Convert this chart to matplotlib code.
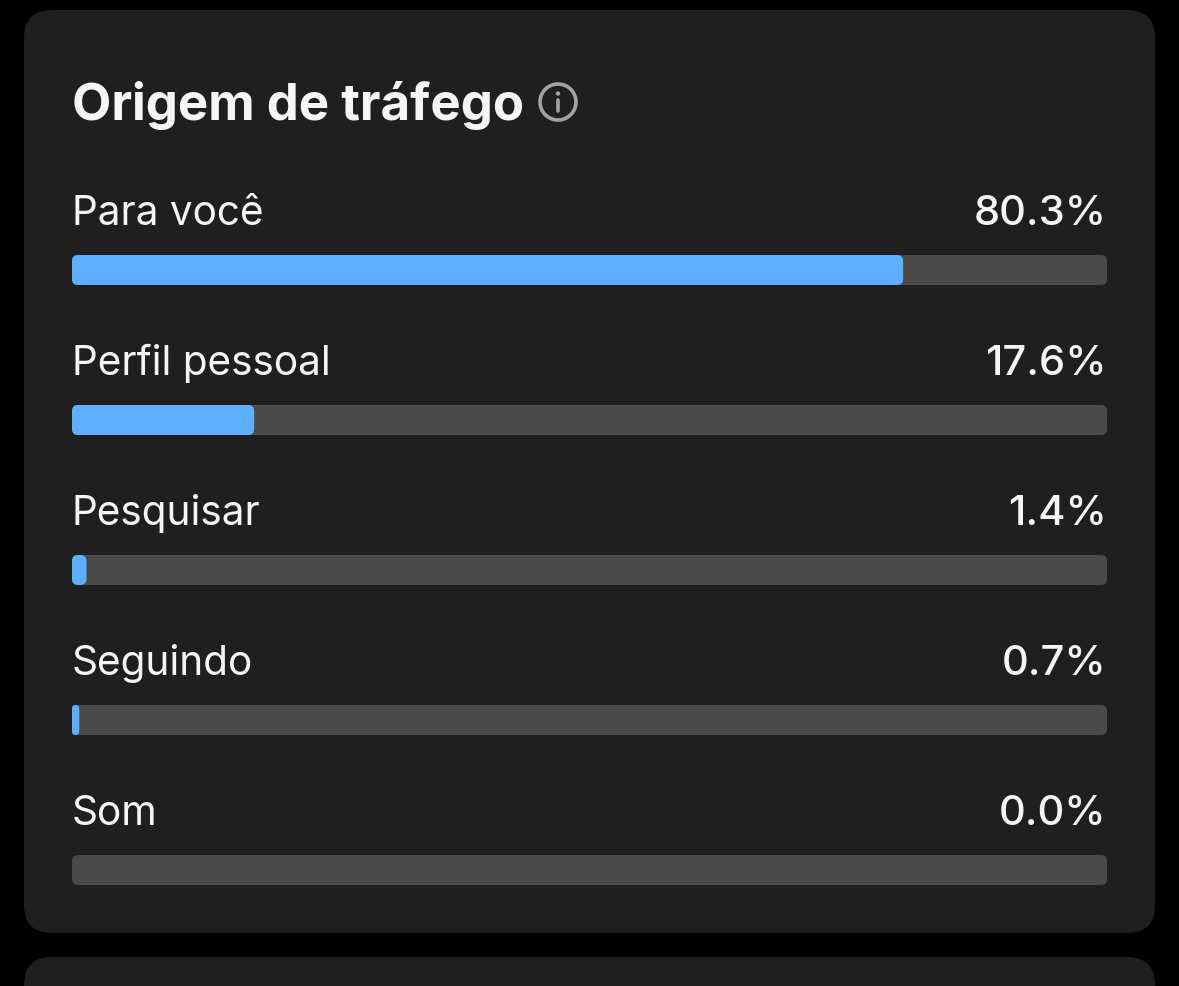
import matplotlib
matplotlib.use('Agg')
import matplotlib.pyplot as plt
from matplotlib.patches import FancyBboxPatch, Circle

categories = ['Para você', 'Perfil pessoal', 'Pesquisar', 'Seguindo', 'Som']
values = [80.3, 17.6, 1.4, 0.7, 0.0]
value_labels = ['80.3%', '17.6%', '1.4%', '0.7%', '0.0%']
title = 'Origem de tráfego'

W, H = 1179, 986
BG = '#000000'
CARD = '#1f1f1f'
TRACK = '#4a4a4a'
BLUE = '#5eb0ff'
TXT = '#f5f5f5'

plt.rcParams['font.family'] = ['Inter', 'DejaVu Sans']

fig = plt.figure(figsize=(W / 100, H / 100), dpi=100, facecolor=BG)

# layer in pixel coordinates: cards, text, icon
ax = fig.add_axes([0, 0, 1, 1])
ax.set_xlim(0, W)
ax.set_ylim(H, 0)
ax.axis('off')

def rbox(a, x, y, w, h, r, color, aspect=1.0):
    p = FancyBboxPatch((x, y), w, h, boxstyle='round,pad=0,rounding_size=%f' % r,
                       mutation_aspect=aspect, fc=color, ec='none', lw=0)
    a.add_patch(p)
    return p

rbox(ax, 24, 10, 1131, 923, 28, CARD)
rbox(ax, 24, 957, 1131, 120, 28, CARD)

ax.text(71.5, 120.5, title, color=TXT, fontsize=36.7, fontweight='bold', va='baseline', ha='left')

# info icon next to the title
ax.add_patch(Circle((558, 102), 18, fc='none', ec='#a3a3a3', lw=2.6))
ax.add_patch(Circle((558, 93.5), 2.2, fc='#a3a3a3', ec='none'))
ax.plot([558, 558], [100, 111], color='#a3a3a3', lw=2.6, solid_capstyle='round')

# bars: x axis runs 0-100% across the track, y stays in pixels
bx = fig.add_axes([72 / W, 0, 1035 / W, 1])
bx.set_xlim(0, 100)
bx.set_ylim(H, 0)
bx.axis('off')
bx.patch.set_alpha(0)
px_per_pct = 1035 / 100

for i, (name, val, lab) in enumerate(zip(categories, values, value_labels)):
    top = 255 + 150 * i
    base = 225 + 150 * i
    rbox(bx, 0, top, 100, 30, 6 / px_per_pct, TRACK, aspect=px_per_pct)
    if val > 0:
        r = min(6 / px_per_pct, val / 2)
        rbox(bx, 0, top, val, 30, r, BLUE, aspect=px_per_pct)
    ax.text(71.5, base, name, color=TXT, fontsize=29.2, fontweight='normal', va='baseline', ha='left')
    ax.text(1106.5, base, lab, color=TXT, fontsize=30.0, fontweight='medium', va='baseline', ha='right')

fig.savefig('out.png', dpi=100, facecolor=BG)
